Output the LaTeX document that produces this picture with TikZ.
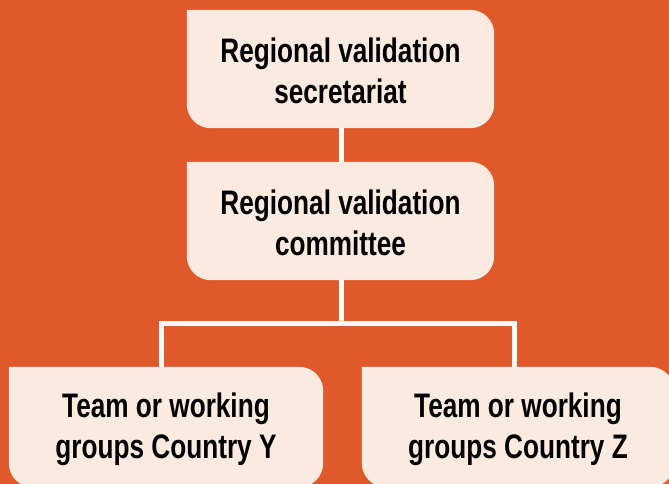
\documentclass[tikz,border=0pt]{standalone}
\usepackage{fontspec}
\setmainfont[FakeStretch=0.77]{Liberation Sans}
\definecolor{bgorange}{RGB}{224,89,42}
\definecolor{boxcream}{RGB}{251,234,223}
\definecolor{linkwhite}{RGB}{255,250,245}

% Box with a square top-left corner and rounded remaining corners
\newcommand{\leafshape}[2][24pt]{%
  \fill[boxcream] (#2.north west)
    -- ([xshift=-#1]#2.north east) arc[start angle=90,end angle=0,radius=#1]
    -- ([yshift=#1]#2.south east) arc[start angle=0,end angle=-90,radius=#1]
    -- ([xshift=#1]#2.south west) arc[start angle=270,end angle=180,radius=#1]
    -- cycle;}

\tikzset{
  orgbox/.style={minimum width=307pt,minimum height=118pt,inner sep=0pt,
    align=center,font=\bfseries\fontsize{34}{41}\selectfont,text=black},
  leafbox/.style={orgbox,minimum width=314pt,minimum height=120pt},
  link/.style={draw=linkwhite,line width=5pt,line join=miter}
}

\begin{document}
\begin{tikzpicture}[x=1pt,y=1pt]
  \fill[bgorange] (0,0) rectangle (669,484);
  \useasboundingbox (0,0) rectangle (669,484);

  % node frames (text placed later, above the fills)
  \node[orgbox] (sec) at (340.5,415) {};
  \node[orgbox] (com) at (340.5,263) {};
  \node[leafbox] (ty) at (166,57) {};
  \node[leafbox,minimum width=312pt] (tz) at (518,57) {};

  % connectors
  \coordinate (split) at (341,160.5);
  \coordinate (jl) at (161,160.5);
  \coordinate (jr) at (514,160.5);
  \draw[link] (sec.south -| split) -- (com.north -| split);
  \draw[link] (com.south -| split) -- (split);
  \draw[link] (jl |- ty.north) -- (jl) -- (jr) -- (jr |- tz.north);

  % boxes
  \leafshape{sec}
  \leafshape{com}
  \leafshape{ty}
  \leafshape{tz}

  % labels
  \node[orgbox] at ([yshift=-2pt]sec.center) {Regional validation\\secretariat};
  \node[orgbox] at ([yshift=-2pt]com.center) {Regional validation\\committee};
  \node[orgbox] at ([yshift=-2pt]ty.center) {Team or working\\groups Country Y};
  \node[orgbox] at ([yshift=-2pt]tz.center) {Team or working\\groups Country Z};
\end{tikzpicture}
\end{document}
